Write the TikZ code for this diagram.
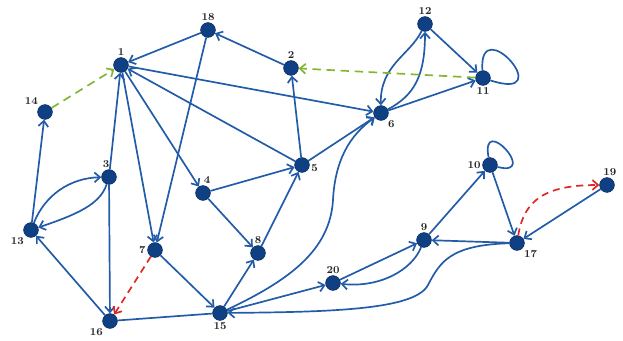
\documentclass[tikz,border=0pt]{standalone}
\usepackage{tikz}
\usetikzlibrary{arrows.meta}

\definecolor{nodeblue}{RGB}{16,64,132}
\definecolor{edgeblue}{RGB}{34,92,168}
\definecolor{dashgreen}{RGB}{132,182,52}
\definecolor{dashred}{RGB}{222,40,36}

\tikzstyle{vertex} = [circle, minimum size=0.37cm, inner sep=0pt, fill=nodeblue, draw=nodeblue!70!black, thin]
\tikzstyle{arrow} = [draw=edgeblue, line width=1.2pt, ->, >={Straight Barb[length=4pt,width=7pt]}]
\tikzstyle{plain} = [draw=edgeblue, line width=1.2pt]
\tikzstyle{greendash} = [arrow, draw=dashgreen, dash pattern=on 6pt off 4pt]
\tikzstyle{reddash} = [arrow, draw=dashred, dash pattern=on 5pt off 3.5pt]

\begin{document}
\begin{tikzpicture}[x=0.025cm, y=-0.025cm,
  every label/.style={font=\fontsize{7.5}{8}\selectfont\bfseries, text=black!85, inner sep=1pt}]

	\useasboundingbox (0,0) rectangle (623,341);

	\node (n1) [vertex, label=above:1] at (121,65) {};
	\node (n2) [vertex, label=above:2] at (291,68) {};
	\node (n3) [vertex, label={[xshift=-2pt]above:3}] at (109,177) {};
	\node (n4) [vertex, label={[xshift=3pt]above:4}] at (203,193) {};
	\node (n5) [vertex, label={[yshift=-2pt]right:5}] at (302,165) {};
	\node (n6) [vertex, label=below right:6] at (381,113) {};
	\node (n7) [vertex, label=left:7] at (155,250) {};
	\node (n8) [vertex, label=above:8] at (258,253) {};
	\node (n9) [vertex, label=above:9] at (424,240) {};
	\node (n10) [vertex, label=left:10] at (490,165) {};
	\node (n11) [vertex, label=below:11] at (483,78) {};
	\node (n12) [vertex, label=above:12] at (425,24) {};
	\node (n13) [vertex, label=below left:13] at (31,230) {};
	\node (n14) [vertex, label=above left:14] at (45,112) {};
	\node (n15) [vertex, label=below:15] at (220,313) {};
	\node (n16) [vertex, label=below left:16] at (110,321) {};
	\node (n17) [vertex, label=below right:17] at (517,243) {};
	\node (n18) [vertex, label=above:18] at (208,30) {};
	\node (n19) [vertex, label={[xshift=2pt]above:19}] at (607,185) {};
	\node (n20) [vertex, label=above:20] at (333,283) {};

	\draw [arrow] (n18) -- (n1);
	\draw [arrow] (n2) -- (n18);
	\draw [arrow] (n18) -- (n7);
	\draw [arrow] (n3) -- (n1);
	\draw [arrow] (n5) -- (n1);
	\draw [arrow] (n1) -- (n6);
	\draw [arrow] (n1) -- (n4);
	\draw [arrow] (n1) -- (n7);
	\draw [arrow] (n5) -- (n2);
	\draw [arrow] (n5) -- (n6);
	\draw [arrow] (n6) -- (n11);
	\draw [arrow] (n12) -- (n11);
	\draw [arrow] (n12) .. controls (410,55) and (380,65) .. (n6);
	\draw [arrow] (n6) .. controls (415,95) and (425,75) .. (n12);
	\draw [plain] (n11) .. controls (478,10) and (560,103) .. (n11);
	\draw [arrow] (n13) -- (n14);
	\draw [arrow] (n13) .. controls (45,195) and (70,178) .. (n3);
	\draw [arrow] (n3) .. controls (100,205) and (75,215) .. (n13);
	\draw [arrow] (n3) -- (n16);
	\draw [arrow] (n16) -- (n13);
	\draw [arrow] (n7) -- (n15);
	\draw [arrow] (n4) -- (n5);
	\draw [arrow] (n4) -- (n8);
	\draw [arrow] (n8) -- (n5);
	\draw [arrow] (n15) -- (n8);
	\draw [arrow] (n15) -- (n20);
	\draw [plain] (n16) -- (n15);
	\draw [arrow] (n15) .. controls (290,280) and (330,250) .. (333,200) .. controls (335,160) and (350,135) .. (n6);
	\draw [arrow] (n20) -- (n9);
	\draw [arrow] (n9) .. controls (412,270) and (380,288) .. (n20);
	\draw [arrow] (n9) -- (n10);
	\draw [plain] (n10) .. controls (480,112) and (540,178) .. (n10);
	\draw [arrow] (n10) -- (n17);
	\draw [arrow] (n17) -- (n9);
	\draw [arrow] (n19) -- (n17);
	\draw [arrow] (n17) .. controls (450,245) and (440,262) .. (428,285) .. controls (415,310) and (330,312) .. (n15);

	\draw [greendash] (n14) -- (n1);
	\draw [greendash] (n11) -- (n2);
	\draw [reddash] (n7) -- (n16);
	\draw [reddash] (n17) .. controls (524,200) and (545,185) .. (n19);

\end{tikzpicture}
\end{document}
